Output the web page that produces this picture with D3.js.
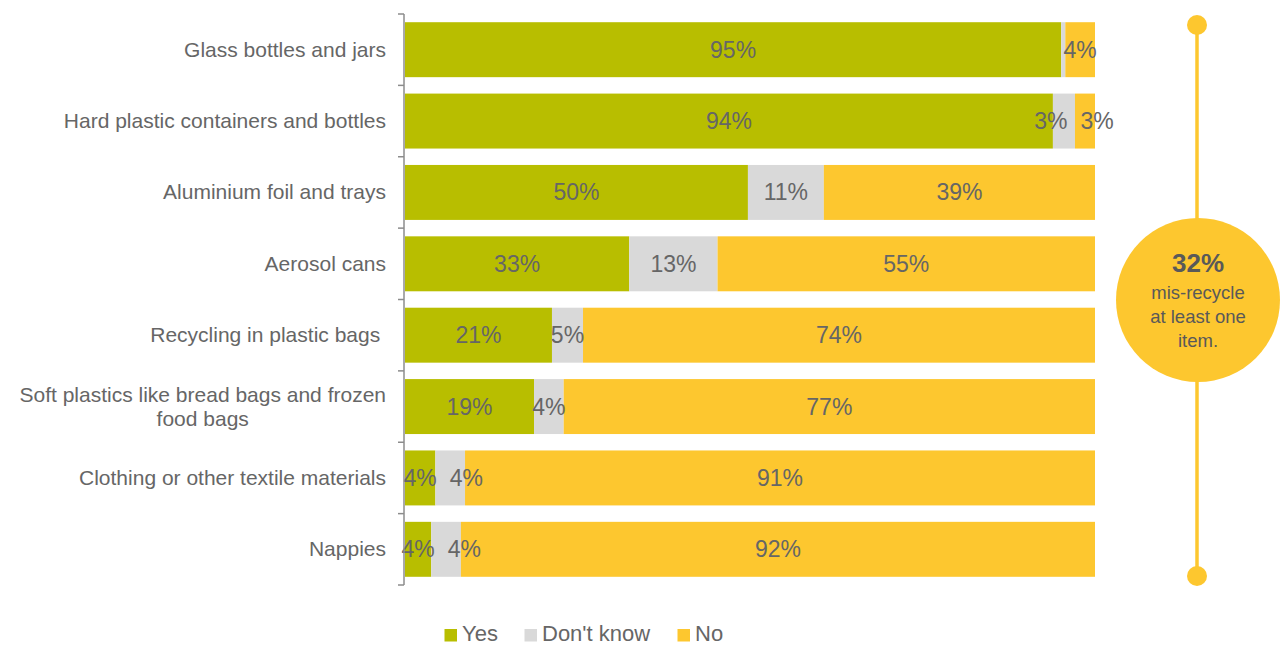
<!DOCTYPE html>
<html>
<head>
<meta charset="utf-8">
<script src="https://cdn.jsdelivr.net/npm/d3@7"></script>
<style>
  html, body { margin: 0; padding: 0; background: #fff; }
  svg { display: block; font-family: "Liberation Sans", Arial, sans-serif; }
</style>
</head>
<body>
<svg id="chart" width="1282" height="645"></svg>
<script>
const categories = [
  ["Glass bottles and jars"],
  ["Hard plastic containers and bottles"],
  ["Aluminium foil and trays"],
  ["Aerosol cans"],
  ["Recycling in plastic bags "],
  ["Soft plastics like bread bags and frozen", "food bags"],
  ["Clothing or other textile materials"],
  ["Nappies"]
];
const seriesNames = ["Yes", "Don't know", "No"];
const yesValues = [95.1, 93.9, 49.7, 32.5, 21.3, 18.7, 4.4, 3.8];
const dontKnowValues = [0.6, 3.2, 11.0, 12.8, 4.5, 4.3, 4.3, 4.3];
const noValues = [4.3, 2.9, 39.3, 54.7, 74.2, 77.0, 91.3, 91.9];
const colors = ["#B8BE00", "#D9D9D9", "#FDC72F"];
const calloutValue = "32%";
const calloutLines = ["mis-recycle", "at least one", "item."];

(function () {
const svg = d3.select("#chart");
const textColor = "#666666";
const plotLeft = 405, plotRight = 1095, plotTop = 14, plotBottom = 585;

const x = d3.scaleLinear().domain([0, 100]).range([plotLeft, plotRight]);
const idx = d3.range(categories.length);
const y = d3.scaleBand().domain(idx).range([plotTop, plotBottom]).paddingInner(0.23).paddingOuter(0.115);

const series = [yesValues, dontKnowValues, noValues];
const rows = idx.map(i => {
  let acc = 0;
  return series.map((vals, s) => {
    const seg = { i, s, v: vals[i], x0: acc, x1: acc + vals[i] };
    acc += vals[i];
    return seg;
  });
});

// bars
const g = svg.append("g");
rows.forEach(segs => {
  g.selectAll(null).data(segs).enter().append("rect")
    .attr("x", d => x(d.x0))
    .attr("y", d => y(d.i))
    .attr("width", d => x(d.x1) - x(d.x0))
    .attr("height", y.bandwidth())
    .attr("fill", d => colors[d.s]);
});

// labels with simple overlap resolution (push right, bounded by plot edge)
const labelSize = 23;
const measure = (txt, size) => {
  const tmp = svg.append("text").attr("font-size", size).text(txt);
  const w = tmp.node().getComputedTextLength();
  tmp.remove();
  return w;
};
rows.forEach(segs => {
  const labs = segs.filter(d => d.v >= 1).map(d => {
    const t = Math.round(d.v) + "%";
    return { d, t, cx: (x(d.x0) + x(d.x1)) / 2, w: measure(t, labelSize) };
  });
  const gap = 13;
  for (let k = 1; k < labs.length; k++) {
    const a = labs[k - 1], b = labs[k];
    const need = (a.w + b.w) / 2 + gap;
    if (b.cx - a.cx < need) b.cx = a.cx + need;
  }
  const maxC = plotRight + 2;
  for (let k = labs.length - 1; k >= 1; k--) {
    const b = labs[k], a = labs[k - 1];
    if (b.cx > maxC && k === labs.length - 1) b.cx = maxC;
    const need = (a.w + b.w) / 2 + gap;
    if (b.cx - a.cx < need) a.cx = b.cx - need;
  }
  g.selectAll(null).data(labs).enter().append("text")
    .attr("x", l => l.cx)
    .attr("y", l => y(l.d.i) + y.bandwidth() / 2 + 8)
    .attr("text-anchor", "middle")
    .attr("font-size", labelSize)
    .attr("fill", textColor)
    .text(l => l.t);
});

// axis line and ticks at band boundaries
const axisColor = "#8C8C8C";
const step = y.step();
const bounds = d3.range(categories.length + 1).map(k => plotTop + k * step);
svg.append("line").attr("x1", 404).attr("x2", 404).attr("y1", plotTop).attr("y2", plotBottom)
  .attr("stroke", axisColor).attr("stroke-width", 1.5);
svg.selectAll(null).data(bounds).enter().append("line")
  .attr("x1", 398).attr("x2", 404).attr("y1", d => d).attr("y2", d => d)
  .attr("stroke", axisColor).attr("stroke-width", 1.5);

// category labels
const catSize = 21, lineH = 24;
idx.forEach(i => {
  const lines = categories[i];
  const cy = y(i) + y.bandwidth() / 2;
  const t = svg.append("text")
    .attr("font-size", catSize).attr("fill", textColor)
    .style("white-space", "pre");
  if (lines.length === 1) {
    t.attr("x", 386).attr("y", cy + 7).attr("text-anchor", "end").text(lines[0]);
  } else {
    const w = measure(lines[0], catSize);
    const cx = 386 - w / 2;
    t.attr("text-anchor", "middle");
    lines.forEach((ln, k) => {
      t.append("tspan").attr("x", cx)
        .attr("y", cy + 7 + (k - (lines.length - 1) / 2) * lineH)
        .text(ln);
    });
  }
});

// legend
const legend = svg.append("g");
const legendX = [444.5, 524.5, 677.5];
seriesNames.forEach((n, s) => {
  legend.append("rect").attr("x", legendX[s]).attr("y", 629).attr("width", 12.5).attr("height", 12.5).attr("fill", colors[s]);
  legend.append("text").attr("x", legendX[s] + 17.5).attr("y", 640.5)
    .attr("font-size", 22).attr("fill", textColor).text(n);
});

// callout
const gold = "#FDC72F";
const cxC = 1197;
svg.append("line").attr("x1", cxC).attr("x2", cxC).attr("y1", 25).attr("y2", 576)
  .attr("stroke", gold).attr("stroke-width", 3.5);
svg.append("circle").attr("cx", cxC).attr("cy", 25).attr("r", 10).attr("fill", gold);
svg.append("circle").attr("cx", cxC).attr("cy", 576).attr("r", 10).attr("fill", gold);
svg.append("circle").attr("cx", 1198).attr("cy", 300).attr("r", 82).attr("fill", gold);
svg.append("text").attr("x", 1198).attr("y", 272).attr("text-anchor", "middle")
  .attr("font-size", 26).attr("font-weight", "bold").attr("fill", "#595959").text(calloutValue);
calloutLines.forEach((ln, k) => {
  svg.append("text").attr("x", 1198).attr("y", 299 + k * 24).attr("text-anchor", "middle")
    .attr("font-size", 18.5).attr("fill", "#595959").text(ln);
});
})();
</script>
</body>
</html>
